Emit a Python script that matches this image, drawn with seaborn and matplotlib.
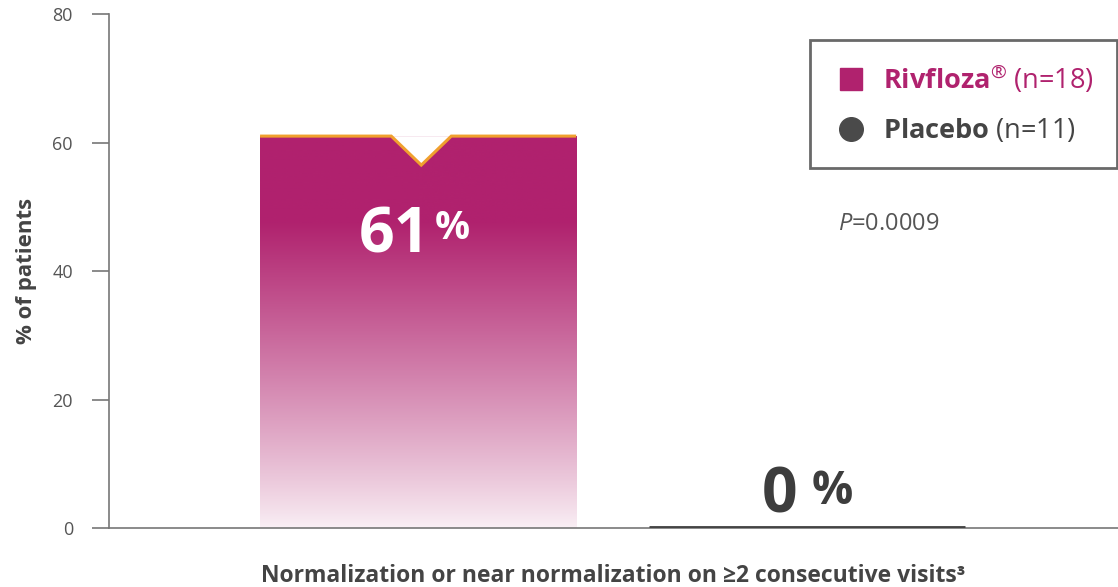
import numpy as np
import pandas as pd
import matplotlib
matplotlib.use("Agg")
import matplotlib.pyplot as plt
from matplotlib.lines import Line2D
from matplotlib.colors import to_rgb
import seaborn as sns

# values
groups = ["Rivfloza", "Placebo"]
pct = [61, 0]
n_pts = [18, 11]
p_value = "0.0009"
y_ticks = [0, 20, 40, 60, 80]
x_title = "Normalization or near normalization on \u22652 consecutive visits\u00b3"

MAGENTA = "#B0226E"
DARK = "#444444"
GREY = "#555555"
ORANGE = "#F0A02E"

sns.set_style("white")
plt.rcParams["font.family"] = ["Open Sans", "DejaVu Sans"]
plt.rcParams["mathtext.fontset"] = "custom"
plt.rcParams["mathtext.rm"] = "Open Sans"
plt.rcParams["mathtext.bf"] = "Open Sans:bold"
plt.rcParams["mathtext.it"] = "Open Sans:italic"

df = pd.DataFrame({"group": groups, "pct": pct})

fig = plt.figure(figsize=(11.18, 5.87), dpi=100)
ax = fig.add_axes([0.0975, 0.1005, 0.9025, 0.8756])

sns.barplot(data=df, x="group", y="pct", hue="group", palette=[MAGENTA, DARK],
            width=0.813, legend=False, ax=ax, saturation=1)

bars = ax.patches
# gradient fill for the Rivfloza bar
b = bars[0]
x0, w, h = b.get_x(), b.get_width(), b.get_height()
b.set_facecolor("none")
b.set_edgecolor("none")
rgb = np.array(to_rgb(MAGENTA))
t = np.linspace(0, 1, 256)  # 0 bottom, 1 top
strength = np.clip(0.07 + 0.93 * (t / 0.78) ** 0.9, 0, 1)
img = 1 - strength[:, None] * (1 - rgb[None, :])
img = img[:, None, :]
im = ax.imshow(img, extent=(x0, x0 + w, 0, h), origin="lower", aspect="auto", zorder=2)
im.set_clip_path(b)

# notch + orange top edge
cx = x0 + w / 2 + w * 0.01
nw = w * 0.095
nd = h * 0.074
ax.fill([cx - nw, cx, cx + nw], [h, h - nd, h], color="white", zorder=3, lw=0)
ax.plot([x0, cx - nw, cx, cx + nw, x0 + w], [h, h, h - nd, h, h],
        color=ORANGE, lw=2.2, zorder=4, solid_joinstyle="miter", solid_capstyle="butt")

# placebo bar is 0 -> draw as thick flat line
b2 = bars[1]
b2.set_edgecolor(DARK)
b2.set_linewidth(3.5)
b2.set_zorder(3)

# value labels
t61 = ax.text(x0 + w / 2 - 0.06, 45.4, "61", ha="center", va="center",
              color="white", fontsize=45, fontweight="bold", zorder=5)
ax.annotate("%", xy=(1, 0.93), xycoords=t61, xytext=(3, 0), textcoords="offset points",
            ha="left", va="top", color="white", fontsize=28, fontweight="bold", zorder=5)
x1 = b2.get_x() + b2.get_width() / 2
t0 = ax.text(x1 - 0.07, 5.0, "0", ha="center", va="center",
             color="#3d3d3d", fontsize=45, fontweight="bold", zorder=5)
ax.annotate("%", xy=(1, 0.95), xycoords=t0, xytext=(10, 0), textcoords="offset points",
            ha="left", va="top", color="#3d3d3d", fontsize=33, fontweight="bold", zorder=5)

ax.text(1.08, 47.3, r"$\mathit{P}$=" + p_value, ha="left", va="center",
        color=GREY, fontsize=17)

# axes
ax.set_ylim(0, 80)
ax.set_xlim(-0.795, 1.80)
ax.set_yticks(y_ticks)
ax.set_xticks([])
ax.tick_params(axis="y", length=12, width=1.2, color="#777777", labelsize=13,
               labelcolor=GREY, pad=14, left=True)
for s in ["top", "right"]:
    ax.spines[s].set_visible(False)
ax.spines["left"].set_color("#777777")
ax.spines["left"].set_linewidth(1.2)
ax.spines["bottom"].set_color("#777777")
ax.spines["bottom"].set_linewidth(1.2)
ax.set_ylabel("% of patients", fontsize=16, fontweight="bold", color=DARK, labelpad=11)
ax.set_xlabel(x_title, fontsize=16.5, fontweight="bold", color=DARK, labelpad=26)

# legend
handles = [Line2D([], [], marker="s", ls="", color=MAGENTA, markersize=16),
           Line2D([], [], marker="o", ls="", color="#4a4a4a", markersize=17)]
labels = [r"$\mathbf{Rivfloza}^{\rm " + "\u00ae" + "}$ (n=%d)" % n_pts[0],
          r"$\mathbf{Placebo}$ (n=%d)" % n_pts[1]]
leg = fig.legend(handles, labels, loc="upper right", bbox_to_anchor=(1117 / 1118, 1 - 40 / 587),
                 fontsize=19.5, frameon=True, fancybox=False, borderpad=0.85,
                 labelspacing=0.8, handletextpad=0.55, borderaxespad=0, handlelength=1.3)
leg.get_frame().set_edgecolor(DARK)
leg.get_frame().set_linewidth(2)
leg.get_texts()[0].set_color(MAGENTA)
leg.get_texts()[1].set_color(DARK)

fig.savefig("out.png", dpi=100)
